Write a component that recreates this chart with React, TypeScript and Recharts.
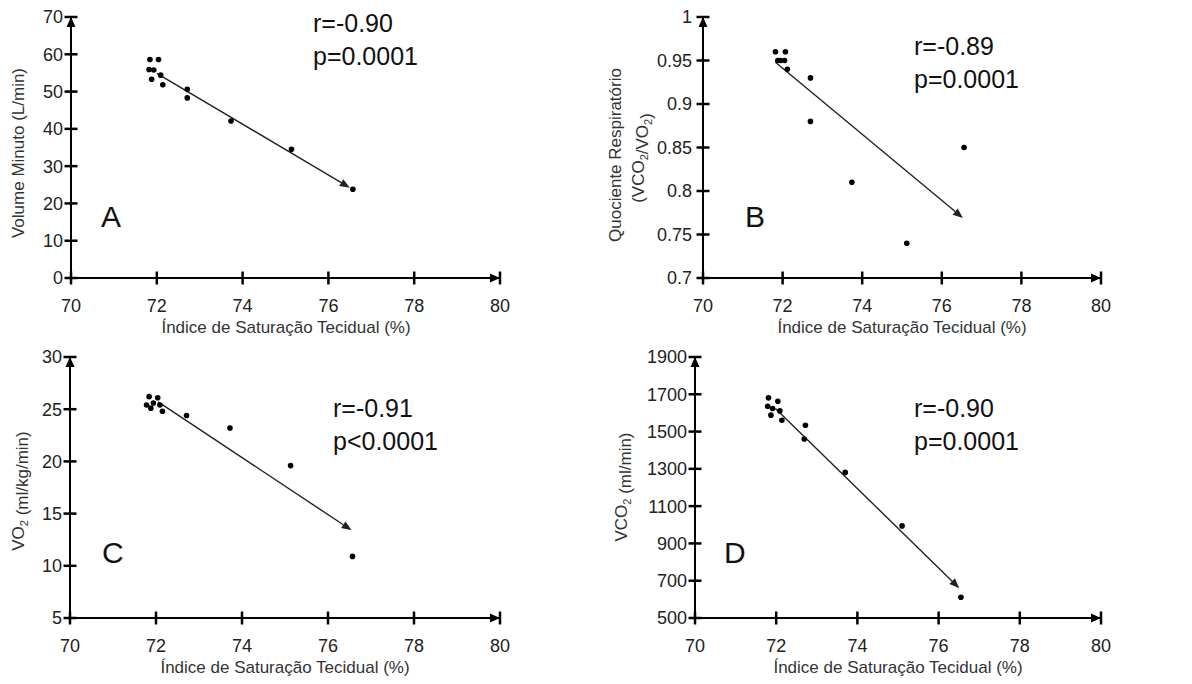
import React from "react";
import { ScatterChart, Scatter, XAxis, YAxis, ReferenceLine, ReferenceDot } from "recharts";

const FONT = "'Liberation Sans', Arial, sans-serif";

const xTicks = [70, 72, 74, 76, 78, 80];

// A - Volume Minuto
const satA = [71.82, 71.84, 72.04, 71.93, 71.88, 72.09, 72.14, 72.71, 72.71, 73.73, 75.14, 76.57];
const volumeMinuto = [55.9, 58.6, 58.6, 55.8, 53.3, 54.4, 51.8, 50.6, 48.3, 42.1, 34.5, 23.8];
const trendA = [{ x: 72.0, y: 54.9 }, { x: 76.5, y: 24.2 }];
const ticksA = [0, 10, 20, 30, 40, 50, 60, 70];

// B - Quociente Respiratorio
const satB = [71.82, 72.07, 71.88, 71.95, 72.05, 72.12, 72.7, 72.7, 73.74, 75.12, 76.56];
const quociente = [0.96, 0.96, 0.95, 0.95, 0.95, 0.94, 0.93, 0.88, 0.81, 0.74, 0.85];
const trendB = [{ x: 71.82, y: 0.948 }, { x: 76.53, y: 0.769 }];
const ticksB = [0.7, 0.75, 0.8, 0.85, 0.9, 0.95, 1];

// C - VO2
const satC = [71.84, 71.78, 71.88, 71.94, 72.04, 72.09, 72.15, 72.71, 73.72, 75.13, 76.57];
const vo2 = [26.2, 25.4, 25.1, 25.6, 26.1, 25.4, 24.8, 24.4, 23.2, 19.6, 10.9];
const trendC = [{ x: 72.05, y: 25.7 }, { x: 76.55, y: 13.4 }];
const ticksC = [5, 10, 15, 20, 25, 30];

// D - VCO2
const satD = [71.81, 71.79, 71.87, 71.91, 72.04, 72.09, 72.14, 72.72, 72.69, 73.7, 75.1, 76.55];
const vco2 = [1681, 1636, 1588, 1624, 1663, 1611, 1561, 1534, 1460, 1281, 994, 611];
const trendD = [{ x: 71.98, y: 1624 }, { x: 76.51, y: 660 }];
const ticksD = [500, 700, 900, 1100, 1300, 1500, 1700, 1900];

const toPoints = (xs: number[], ys: number[]) => xs.map((x, i) => ({ x, y: ys[i] }));

function XTick(props: any) {
  const { x, y, payload } = props;
  return (
    <text x={x} y={y + 34} textAnchor="middle" fontSize={18} fontFamily={FONT} fill="#222">
      {payload.value}
    </text>
  );
}

function YTick(props: any) {
  const { x, y, payload, gap } = props;
  return (
    <text x={x - (gap ?? 8)} y={y} dy="0.36em" textAnchor="end" fontSize={18} fontFamily={FONT} fill="#222">
      {payload.value}
    </text>
  );
}

// tick marks cross the axis, so they are drawn as a marker series sitting on the axes
const vMark = (p: any) => (
  <path d={`M${p.cx - 1.25},${p.cy - 6.5}h2.5v13h-2.5z`} fill="#000" />
);
const hMark = (p: any) => (
  <path d={`M${p.cx - 6.5},${p.cy - 1.25}h13v2.5h-13z`} fill="#000" />
);

function TrendArrow(props: any) {
  const { x1, y1, x2, y2 } = props;
  const a = Math.atan2(y2 - y1, x2 - x1);
  const L = 10;
  const W = 4;
  const bx = x2 - L * Math.cos(a);
  const by = y2 - L * Math.sin(a);
  const pts = `${x2},${y2} ${bx - W * Math.sin(a)},${by + W * Math.cos(a)} ${bx + W * Math.sin(a)},${by - W * Math.cos(a)}`;
  return (
    <g>
      <path d={`M${x1},${y1}L${bx},${by}`} stroke="#222" strokeWidth={1.4} fill="none" />
      <polygon points={pts} fill="#222" />
    </g>
  );
}

const rightArrow = (p: any) => (
  <polygon points={`${p.cx},${p.cy} ${p.cx - 10},${p.cy - 4.5} ${p.cx - 10},${p.cy + 4.5}`} fill="#000" />
);
const upArrow = (p: any) => (
  <polygon points={`${p.cx},${p.cy} ${p.cx - 4.5},${p.cy + 10} ${p.cx + 4.5},${p.cy + 10}`} fill="#000" />
);

const dot = (p: any) => <circle cx={p.cx} cy={p.cy} r={2.8} fill="#000" />;

interface PanelProps {
  left: number;
  top: number;
  plotLeft: number;
  plotRight: number;
  xs: number[];
  ys: number[];
  trend: { x: number; y: number }[];
  yTicks: number[];
  tickGap?: number;
  children?: React.ReactNode;
}

function Panel({ left, top, plotLeft, plotRight, xs, ys, trend, yTicks, tickGap, children }: PanelProps) {
  const yMin = yTicks[0];
  const yMax = yTicks[yTicks.length - 1];
  const xMarks = xTicks.map((t) => ({ x: t, y: yMin }));
  const yMarks = yTicks.map((t) => ({ x: 70, y: t }));
  return (
    <div style={{ position: "absolute", left, top }}>
      <ScatterChart
        width={596}
        height={340}
        margin={{ top: 17, left: plotLeft - 1, right: 596 - plotRight, bottom: 61 }}
      >
        <XAxis
          type="number"
          dataKey="x"
          domain={[70, 80]}
          ticks={xTicks}
          height={1}
          tickSize={0}
          tickMargin={0}
          tickLine={false}
          axisLine={{ stroke: "#000", strokeWidth: 2 }}
          tick={<XTick />}
          interval={0}
        />
        <YAxis
          type="number"
          dataKey="y"
          domain={[yMin, yMax]}
          ticks={yTicks}
          width={1}
          tickSize={0}
          tickMargin={0}
          tickLine={false}
          axisLine={{ stroke: "#000", strokeWidth: 2 }}
          tick={<YTick gap={tickGap} />}
          interval={0}
        />
        <Scatter data={xMarks} shape={vMark} isAnimationActive={false} />
        <Scatter data={yMarks} shape={hMark} isAnimationActive={false} />
        <Scatter data={toPoints(xs, ys)} shape={dot} isAnimationActive={false} />
        <ReferenceLine segment={trend} shape={TrendArrow} ifOverflow="visible" />
        <ReferenceDot x={80} y={yMin} shape={rightArrow} ifOverflow="visible" />
        <ReferenceDot x={70} y={yMax} shape={upArrow} ifOverflow="visible" />
        {children}
      </ScatterChart>
    </div>
  );
}

function Stats({ x, y, r, p }: { x: number; y: number; r: string; p: string }) {
  return (
    <g fontFamily={FONT} fontSize={25} fill="#111">
      <text x={x} y={y}>{r}</text>
      <text x={x} y={y + 33}>{p}</text>
    </g>
  );
}

function Letter({ x, y, t }: { x: number; y: number; t: string }) {
  return (
    <text x={x} y={y} fontFamily={FONT} fontSize={30} fill="#111">
      {t}
    </text>
  );
}

function XLabel({ cx }: { cx: number }) {
  return (
    <text x={cx} y={333} textAnchor="middle" fontFamily={FONT} fontSize={17} fill="#333">
      Índice de Saturação Tecidual (%)
    </text>
  );
}

function YLabel({ x, y, children }: { x: number; y: number; children: React.ReactNode }) {
  return (
    <text
      x={x}
      y={y}
      transform={`rotate(-90, ${x}, ${y})`}
      textAnchor="middle"
      dy="0.36em"
      fontFamily={FONT}
      fontSize={17}
      fill="#333"
    >
      {children}
    </text>
  );
}

const Sub = ({ t }: { t: string }) => (
  <>
    <tspan fontSize={11} dy={4}>{t}</tspan>
    <tspan dy={-4}></tspan>
  </>
);

export default function App() {
  return (
    <div style={{ position: "absolute", left: 0, top: 0, width: 1192, height: 684, background: "#fff" }}>
      <Panel left={0} top={0} plotLeft={71} plotRight={500} xs={satA} ys={volumeMinuto} trend={trendA} yTicks={ticksA}>
        <Stats x={313} y={32} r="r=-0.90" p="p=0.0001" />
        <Letter x={101} y={227} t="A" />
        <XLabel cx={286} />
        <YLabel x={18} y={153}>Volume Minuto (L/min)</YLabel>
      </Panel>
      <Panel left={596} top={0} plotLeft={107} plotRight={505} xs={satB} ys={quociente} trend={trendB} yTicks={ticksB} tickGap={11}>
        <Stats x={318} y={55} r="r=-0.89" p="p=0.0001" />
        <Letter x={149} y={227} t="B" />
        <XLabel cx={306} />
        <YLabel x={19} y={155}>Quociente Respiratório</YLabel>
        <YLabel x={42} y={158}>
          (VCO<Sub t="2" />/VO<Sub t="2" />)
        </YLabel>
      </Panel>
      <Panel left={0} top={340} plotLeft={70} plotRight={500} xs={satC} ys={vo2} trend={trendC} yTicks={ticksC}>
        <Stats x={333} y={77} r="r=-0.91" p="p<0.0001" />
        <Letter x={102} y={223} t="C" />
        <XLabel cx={285} />
        <YLabel x={18} y={151}>
          VO<Sub t="2" /> (ml/kg/min)
        </YLabel>
      </Panel>
      <Panel left={596} top={340} plotLeft={99} plotRight={505} xs={satD} ys={vco2} trend={trendD} yTicks={ticksD}>
        <Stats x={318} y={77} r="r=-0.90" p="p=0.0001" />
        <Letter x={128} y={223} t="D" />
        <XLabel cx={302} />
        <YLabel x={25} y={147}>
          VCO<Sub t="2" /> (ml/min)
        </YLabel>
      </Panel>
    </div>
  );
}
